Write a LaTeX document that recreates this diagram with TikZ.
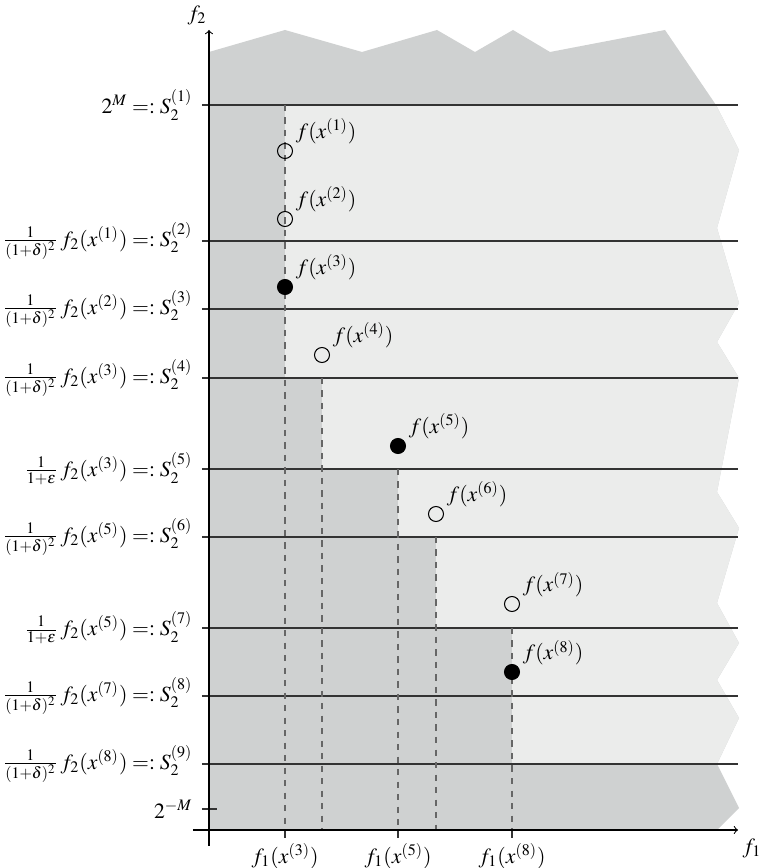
\documentclass[tikz,border=0pt]{standalone}
\usepackage{amsmath}
\usepackage{amssymb}
\usepackage{mathptmx}
\usepackage{tikz}
\usetikzlibrary{positioning}

\definecolor{outgray}{RGB}{207,209,209}
\definecolor{ingray}{RGB}{235,236,235}

\begin{document}
\begin{tikzpicture}[x=0.48pt, y=0.48pt,
    every node/.style={font=\fontsize{10.4pt}{12.5pt}\selectfont},
    level/.style={black!80, line width=0.5pt},
    drop/.style={black!60, dashed, line width=0.5pt},
    axis/.style={->, black, line width=0.5pt},
    opt/.style={circle, draw, line width=0.5pt, minimum size=7.2pt, inner sep=0pt},
    fpt/.style={opt, fill=black},
    ptlab/.style={inner sep=0pt},
    axlab/.style={inner sep=1pt}]

    \useasboundingbox (-209,-38) rectangle (555,830);

    % dominated and open parts of the objective space
    \fill[outgray] (0,0) -- (0,778) -- (76,800) -- (153,778) -- (228,800) -- (266,778) -- (304,800)
        -- (341,778) -- (456,800) -- (507,725) -- (530,680) -- (508,602) -- (530,527) -- (508,488)
        -- (530,452) -- (508,338) -- (530,302) -- (508,227) -- (530,187) -- (508,150) -- (530,112)
        -- (508,66) -- (530,22) -- (508,0) -- cycle;
    \fill[ingray] (76,725) -- (507,725) -- (530,680) -- (508,602) -- (530,527) -- (508,488)
        -- (530,452) -- (508,338) -- (530,302) -- (508,227) -- (530,187) -- (508,150) -- (530,112)
        -- (508,66) -- (303,66) -- (303,202) -- (227,202) -- (227,293) -- (189,293) -- (189,361)
        -- (113,361) -- (113,452) -- (76,452) -- cycle;

    \coordinate (s1) at (-7,725);
    \coordinate (s2) at (-7,589);
    \coordinate (s3) at (-7,521);
    \coordinate (s4) at (-7,452);
    \coordinate (s5) at (-7,361);
    \coordinate (s6) at (-7,293);
    \coordinate (s7) at (-7,202);
    \coordinate (s8) at (-7,134);
    \coordinate (s9) at (-7,66);
    \coordinate (s0) at (-7,21);

    \coordinate (e1) at (529,725);
    \coordinate (e2) at (529,589);
    \coordinate (e3) at (529,521);
    \coordinate (e4) at (529,452);
    \coordinate (e5) at (529,361);
    \coordinate (e6) at (529,293);
    \coordinate (e7) at (529,202);
    \coordinate (e8) at (529,134);
    \coordinate (e9) at (529,66);
    \coordinate (e0) at (8,21);

    \draw[level] (s1) -- (e1);
    \draw[level] (s2) -- (e2);
    \draw[level] (s3) -- (e3);
    \draw[level] (s4) -- (e4);
    \draw[level] (s5) -- (e5);
    \draw[level] (s6) -- (e6);
    \draw[level] (s7) -- (e7);
    \draw[level] (s8) -- (e8);
    \draw[level] (s9) -- (e9);
    \draw[level] (s0) -- (e0);

    % drops down to the f1 axis
    \coordinate (d3) at (76,725);
    \coordinate (d4) at (113,452);
    \coordinate (d5) at (189,361);
    \coordinate (d6) at (227,293);
    \coordinate (d8) at (303,202);

    \coordinate (a3) at (76,0);
    \coordinate (a4) at (113,0);
    \coordinate (a5) at (189,0);
    \coordinate (a6) at (227,0);
    \coordinate (a8) at (303,0);

    \coordinate (b3) at (76,-8);
    \coordinate (b5) at (189,-8);
    \coordinate (b8) at (303,-8);

    \draw[drop] (d3) -- (a3);
    \draw[drop] (d4) -- (a4);
    \draw[drop] (d5) -- (a5);
    \draw[drop] (d6) -- (a6);
    \draw[drop] (d8) -- (a8);

    \draw[level] (a3) -- (b3);
    \draw[level] (a5) -- (b5);
    \draw[level] (a8) -- (b8);

    % axes
    \coordinate (o1) at (-16,0);
    \coordinate (xe) at (529,0);
    \coordinate (o2) at (0,-16);
    \coordinate (ye) at (0,800);

    \draw[axis] (o1) -- (xe);
    \draw[axis] (o2) -- (ye);

    \node (f1) at (543,-18) {$f_1$};
    \node (f2) at (-12,815) {$f_2$};

    \node[axlab, below=1.5pt of b3] (x3) {$f_1(x^{(3)})$};
    \node[axlab, below=1.5pt of b5] (x5) {$f_1(x^{(5)})$};
    \node[axlab, below=1.5pt of b8] (x8) {$f_1(x^{(8)})$};

    \node[axlab, left=3.4pt of s1] (l1) {$2^M =: S_2^{(1)}$};
    \node[axlab, left=3.4pt of s2] (l2) {$\frac{1}{(1+\delta)^2}\, f_2(x^{(1)}) =: S_2^{(2)}$};
    \node[axlab, left=3.4pt of s3] (l3) {$\frac{1}{(1+\delta)^2}\, f_2(x^{(2)}) =: S_2^{(3)}$};
    \node[axlab, left=3.4pt of s4] (l4) {$\frac{1}{(1+\delta)^2}\, f_2(x^{(3)}) =: S_2^{(4)}$};
    \node[axlab, left=3.4pt of s5] (l5) {$\frac{1}{1+\varepsilon}\, f_2(x^{(3)}) =: S_2^{(5)}$};
    \node[axlab, left=3.4pt of s6] (l6) {$\frac{1}{(1+\delta)^2}\, f_2(x^{(5)}) =: S_2^{(6)}$};
    \node[axlab, left=3.4pt of s7] (l7) {$\frac{1}{1+\varepsilon}\, f_2(x^{(5)}) =: S_2^{(7)}$};
    \node[axlab, left=3.4pt of s8] (l8) {$\frac{1}{(1+\delta)^2}\, f_2(x^{(7)}) =: S_2^{(8)}$};
    \node[axlab, left=3.4pt of s9] (l9) {$\frac{1}{(1+\delta)^2}\, f_2(x^{(8)}) =: S_2^{(9)}$};
    \node[axlab, left=3.4pt of s0] (l0) {$2^{-M}$};

    % computed points
    \node[opt] (p1) at (76,679) {};
    \node[opt] (p2) at (76,611) {};
    \node[fpt] (p3) at (76,543) {};
    \node[opt] (p4) at (113,475) {};
    \node[fpt] (p5) at (189,384) {};
    \node[opt] (p6) at (227,316) {};
    \node[opt] (p7) at (303,226) {};
    \node[fpt] (p8) at (303,158) {};

    \node[ptlab, above right=0.3pt and 2.3pt of p1] (q1) {$f(x^{(1)})$};
    \node[ptlab, above right=0.3pt and 2.3pt of p2] (q2) {$f(x^{(2)})$};
    \node[ptlab, above right=0.3pt and 2.3pt of p3] (q3) {$f(x^{(3)})$};
    \node[ptlab, above right=0.3pt and 2.3pt of p4] (q4) {$f(x^{(4)})$};
    \node[ptlab, above right=0.3pt and 2.3pt of p5] (q5) {$f(x^{(5)})$};
    \node[ptlab, above right=0.3pt and 2.3pt of p6] (q6) {$f(x^{(6)})$};
    \node[ptlab, above right=0.3pt and 2.3pt of p7] (q7) {$f(x^{(7)})$};
    \node[ptlab, above right=0.3pt and 2.3pt of p8] (q8) {$f(x^{(8)})$};

\end{tikzpicture}
\end{document}
